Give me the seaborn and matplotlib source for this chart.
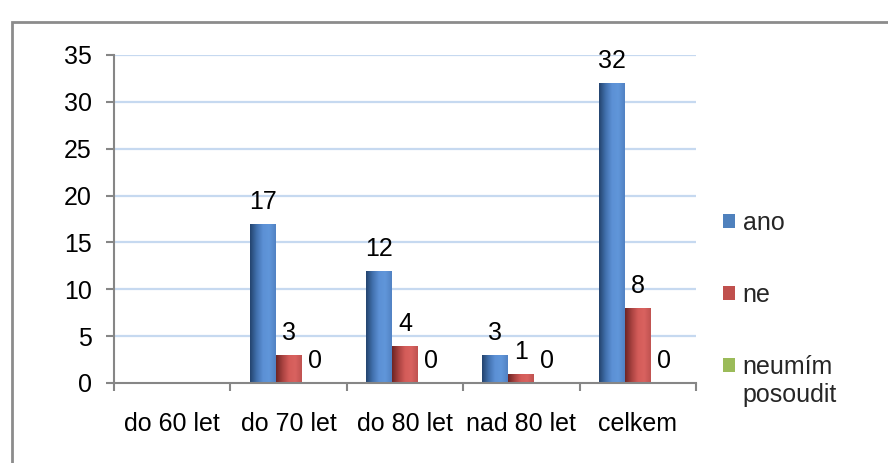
import numpy as np
import pandas as pd
import seaborn as sns
import matplotlib.pyplot as plt
import matplotlib.colors as mcolors
from matplotlib.patches import Rectangle, Patch
from matplotlib.legend_handler import HandlerPatch

categories = ["do 60 let", "do 70 let", "do 80 let", "nad 80 let", "celkem"]
series = ["ano", "ne", "neumím posoudit"]
legend_labels = ["ano", "ne", "neumím\nposoudit"]
ano = [np.nan, 17, 12, 3, 32]
ne = [np.nan, 3, 4, 1, 8]
neumim = [np.nan, 0, 0, 0, 0]
colors = ["#4F81BD", "#C0504D", "#9BBB59"]
grad_colors = {
    "#4F81BD": ["#24446e", "#4170ad", "#5c90d5", "#6096da", "#5282c3"],
    "#C0504D": ["#6e2524", "#a84240", "#d45c59", "#d96260", "#c05350"],
    "#9BBB59": ["#5a7330", "#86a54b", "#a7c966", "#aacc6a", "#98b85a"],
}
yticks = [0, 5, 10, 15, 20, 25, 30, 35]
FS = 18

rows = []
for s, vals in zip(series, [ano, ne, neumim]):
    for c, v in zip(categories, vals):
        if not np.isnan(v):
            rows.append({"category": c, "series": s, "value": v})
df = pd.DataFrame(rows)

sns.set_theme(style="white")
plt.rcParams['font.family'] = ['Liberation Sans', 'DejaVu Sans']

fig = plt.figure(figsize=(8.88, 4.63), dpi=100)
ax = fig.add_axes([114 / 888, 1 - 383 / 463, (696 - 114) / 888, (383 - 55) / 463])

sns.barplot(data=df, x="category", y="value", hue="series", order=categories,
            hue_order=series, palette=colors, width=0.67, ax=ax, legend=False,
            saturation=1, errorbar=None, linewidth=0)

# gradient fill like the original
for container, col in zip(ax.containers, colors):
    cmap = mcolors.LinearSegmentedColormap.from_list("g", grad_colors[col])
    grad = np.linspace(0, 1, 64).reshape(1, -1)
    for p in container.patches:
        h = p.get_height()
        if h > 0:
            x0 = p.get_x()
            w = p.get_width()
            im = ax.imshow(grad, cmap=cmap, aspect="auto", extent=(x0, x0 + w, 0, h),
                           zorder=p.get_zorder() + 0.1, interpolation="bicubic")
            im.set_clip_path(p)
    ax.bar_label(container, fmt="%g", padding=7, fontsize=FS, color="black")

ax.set_xlim(-0.5, len(categories) - 0.5)
ax.set_ylim(0, 35)
ax.set_yticks(yticks)
ax.set_yticklabels([str(t) for t in yticks])
ax.set_xlabel("")
ax.set_ylabel("")

for t in yticks[1:]:
    ax.axhline(t, color="#c6d9f0", lw=1.6, zorder=0)

ax.set_xticks(range(len(categories)))
ax.set_xticklabels(categories)
ax.set_xticks(np.arange(-0.5, len(categories), 1.0), minor=True)
ax.tick_params(axis="x", which="major", length=0, pad=21, labelsize=FS, colors="black")
ax.tick_params(axis="x", which="minor", length=6, width=1.5, color="#868686", direction="out", bottom=True)
ax.tick_params(axis="y", length=6, width=1.5, color="#868686", direction="out", left=True,
               pad=10, labelsize=FS, labelcolor="black")

for s in ["top", "right"]:
    ax.spines[s].set_visible(False)
for s in ["left", "bottom"]:
    ax.spines[s].set_color("#868686")
    ax.spines[s].set_linewidth(1.5)


def raised_patch(legend, orig_handle, xdescent, ydescent, width, height, fontsize):
    # align the marker with the first line of a two-line label
    return Rectangle((-xdescent, -ydescent + 12), width, height)


handles = [Patch(facecolor=c, edgecolor="none") for c in colors]
fig.legend(handles=handles, labels=legend_labels, loc="upper left",
           bbox_to_anchor=(723 / 888, 1 - 211 / 463), frameon=False, borderpad=0,
           borderaxespad=0, fontsize=FS, labelspacing=1.93, handlelength=0.48,
           handleheight=0.48, handletextpad=0.3,
           handler_map={handles[2]: HandlerPatch(patch_func=raised_patch)})

fig.patches.append(Rectangle((12 / 888, -0.1), 1.2, 1 - 22 / 463 + 0.1, transform=fig.transFigure,
                             fill=False, edgecolor="#8c8c8c", lw=2))

fig.savefig("out.png", dpi=100)
